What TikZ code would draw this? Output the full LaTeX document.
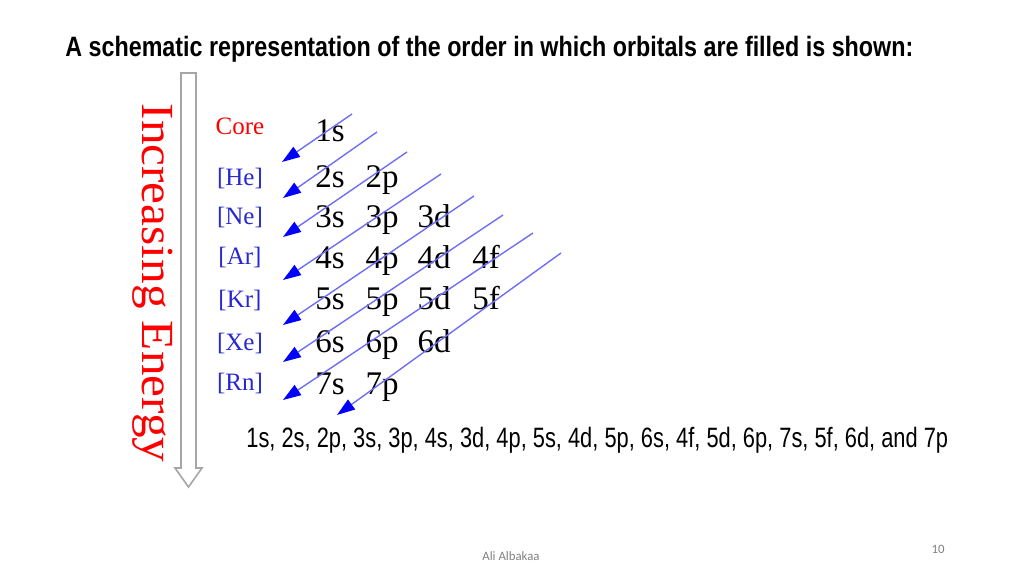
\documentclass[tikz,border=0pt]{standalone}
\usepackage{fontspec}
\setmainfont{Liberation Serif}
\newfontfamily\headsf[FakeStretch=0.832]{Liberation Sans}
\newfontfamily\narrowsf[FakeStretch=0.78]{Liberation Sans}
\newfontfamily\widerm[FakeStretch=1.07]{Liberation Serif}
\newfontfamily\footsf{Carlito}
\usetikzlibrary{arrows.meta}
\definecolor{shellblue}{RGB}{40,40,210}
\definecolor{linkblue}{RGB}{110,110,245}

\begin{document}
\begin{tikzpicture}[x = 0.5pt, y = -0.5pt,
	shell/.style = {font=\fontsize{12.5}{14}\selectfont, text=shellblue, inner sep=0pt, anchor=base},
	orb/.style = {font=\fontsize{16.5}{18}\selectfont, inner sep=0pt, anchor=base},
	fillpath/.style = {draw=linkblue, line width=0.7pt, -{Triangle[length=9pt, width=6pt, color=blue]}},
	caption/.style = {font=\narrowsf\fontsize{14}{16}\selectfont, inner sep=0pt, anchor=base west},
	foot/.style = {text=gray, font=\footsf\fontsize{6.4}{7}\selectfont}]
	\useasboundingbox (0,0) rectangle (1024,576);
	% heading
	\node[caption, font=\headsf\bfseries\fontsize{14}{16}\selectfont] (title) at (65,57) {A schematic representation of the order in which orbitals are filled is shown:};
	% energy axis
	\draw[gray!70, fill=white, line width=0.8pt] (181,73) -- (196,73) -- (196,468) -- (202,468) -- (188.5,487) -- (175,468) -- (181,468) -- cycle;
	\node[rotate=-90, anchor=base, text=red, inner sep=0pt, font=\widerm\fontsize{23}{25}\selectfont] (energy) at (142,283) {Increasing Energy};
	% cores
	\node[shell, text=red] (Core) at (240,135) {Core};
	\foreach \name/\y in {He/186, Ne/225, Ar/265, Kr/308, Xe/351, Rn/391}
		\node[shell] (\name) at (240,\y) {[\name]};
	% orbitals
	\foreach \n/\y/\subs in {1/142/{s}, 2/188/{s,p}, 3/228/{s,p,d}, 4/269/{s,p,d,f}, 5/310/{s,p,d,f}, 6/353/{s,p,d}, 7/395/{s,p}}
		\foreach \s [count=\i] in \subs
			\node[orb] (o\n\s) at ({278+52*\i},\y) {\n\s};
	% filling order
	\foreach \k/\sx/\sy/\ex/\ey in {1/352/114/282/162, 2/377/132/283/198, 3/407/152/283/237, 4/441/174/283/280, 5/474/196/283/325, 6/503/215/283/362, 7/533/233/283/400, 8/561/253/337/415} {
		\coordinate (s\k) at (\sx,\sy);
		\coordinate (e\k) at (\ex,\ey);
		\draw[fillpath] (s\k) -- (e\k);
	}
	\node[caption] (order) at (246,448) {1s, 2s, 2p, 3s, 3p, 4s, 3d, 4p, 5s, 4d, 5p, 6s, 4f, 5d, 6p, 7s, 5f, 6d, and 7p};
	% footer
	\node[foot] (author) at (511,556) {Ali Albakaa};
	\node[foot] (page) at (938,549) {10};
\end{tikzpicture}
\end{document}
